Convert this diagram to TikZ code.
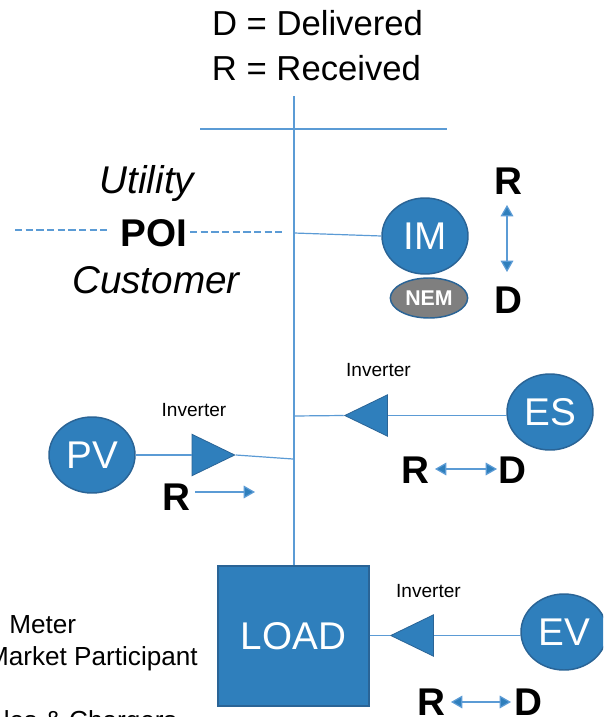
\documentclass[tikz,border=0pt]{standalone}
\usepackage{fontspec}
\setmainfont{Liberation Sans}
\usetikzlibrary{arrows.meta,shapes.geometric}
\definecolor{blockblue}{HTML}{2F7FBC}
\definecolor{edgeblue}{HTML}{2A6496}
\definecolor{wireblue}{HTML}{5B9BD5}
\definecolor{nemgray}{HTML}{7F7F7F}
\newcommand{\fpx}[1]{\fontsize{#1pt}{#1pt}\selectfont}
\tikzset{
  x=0.75pt,y=-0.75pt,
  wire/.style={draw=wireblue,line width=0.9pt},
  dashwire/.style={draw=wireblue,line width=0.9pt,dash pattern=on 5.5pt off 2.5pt},
  flow/.style={draw=wireblue,line width=0.9pt,{Triangle[length=8.5pt,width=9.5pt,fill=blockblue]}-{Triangle[length=8.5pt,width=9.5pt,fill=blockblue]}},
  flowone/.style={draw=wireblue,line width=0.9pt,-{Triangle[length=8.5pt,width=9.5pt,fill=blockblue]}},
  device/.style={ellipse,draw=edgeblue,line width=1.1pt,fill=blockblue,text=white,inner sep=0pt,minimum width=64.5pt,minimum height=57pt,font=\fpx{29}},
  nemnode/.style={ellipse,draw=edgeblue,line width=1.1pt,fill=nemgray,text=white,inner sep=0pt,minimum width=58pt,minimum height=30pt,font=\bfseries\fpx{16}},
  loadbox/.style={rectangle,draw=edgeblue,line width=1.1pt,fill=blockblue,text=white,inner sep=0pt,minimum width=113pt,minimum height=105pt,font=\fpx{29}},
  inverter/.style={isosceles triangle,isosceles triangle stretches,draw=edgeblue,line width=0.6pt,fill=blockblue,inner sep=0pt,minimum width=31pt,minimum height=32pt},
  small/.style={inner sep=0pt,anchor=base,font=\fpx{14.3}},
  legend/.style={inner sep=0pt,anchor=base,font=\fpx{26}},
  body/.style={inner sep=0pt,font=\fpx{19.6}},
  bigb/.style={inner sep=0pt,anchor=base,font=\bfseries\fpx{29}},
  side/.style={inner sep=0pt,anchor=base,font=\itshape\fpx{29}}
}
\begin{document}
\begin{tikzpicture}
\useasboundingbox (0,0) rectangle (603,717);
\clip (0,0) rectangle (603,717);
\fill[white] (0,0) rectangle (603,717);
% legend
\node[legend] (ld) at (317.5,36) {D = Delivered};
\node[legend] (lr) at (316.5,80) {R = Received};
% coordinates
\coordinate (bustop) at (294,96);
\coordinate (barl) at (200,129);
\coordinate (barr) at (447,129);
\coordinate (jim) at (294,233);
\coordinate (jes) at (294,416);
\coordinate (jpv) at (293,459);
\coordinate (dl1) at (15,230);
\coordinate (dl2) at (107,230);
\coordinate (dr1) at (190,232);
\coordinate (dr2) at (282,232);
\coordinate (fa) at (507,205);
\coordinate (fb) at (507,272);
\coordinate (fc) at (435,469);
\coordinate (fd) at (497,469);
\coordinate (fe) at (195,492);
\coordinate (ff) at (255,492);
\coordinate (fg) at (451,702);
\coordinate (fh) at (511,702);
% nodes
\node[loadbox] (load) at (293.5,636) {LOAD};
\node[device] (im) at (425,236) {IM};
\node[nemnode] (nem) at (429,298) {NEM};
\node[device] (es) at (550,412) {ES};
\node[device] (pv) at (92,455) {PV};
\node[device] (ev) at (564,632) {EV};
\node[inverter,shape border rotate=180] (inves) at (374.5,415.5) {};
\node[inverter] (invpv) at (205,455) {};
\node[inverter,shape border rotate=180] (invev) at (420.5,635.5) {};
% wires
\draw[wire] (barl) -- (barr);
\draw[wire] (bustop) -- (load.north -| bustop);
\draw[wire] (jim) -- (im.west);
\draw[wire] (jes) -- (inves.apex);
\draw[wire] (inves.lower side) -- (es.west |- inves.lower side);
\draw[wire] (pv.east) -- (invpv.lower side);
\draw[wire] (invpv.apex) -- (jpv);
\draw[wire] (load.east |- invev.apex) -- (invev.apex);
\draw[wire] (invev.lower side) -- (ev.west |- invev.lower side);
\draw[dashwire] (dl1) -- (dl2);
\draw[dashwire] (dr1) -- (dr2);
% labels
\node[side] (util) at (147,193) {Utility};
\node[bigb] (poi) at (154,246) {POI};
\node[side] (cust) at (156,293) {Customer};
\node[bigb] (rim) at (508.5,194) {R};
\node[bigb] (dim) at (508,313) {D};
\draw[flow] (fa) -- (fb);
\node[small] (t1) at (378.5,376) {Inverter};
\node[small] (t2) at (194,416) {Inverter};
\node[small] (t3) at (428.5,597) {Inverter};
\node[bigb] (res) at (415.5,483) {R};
\node[bigb] (des) at (512,483) {D};
\draw[flow] (fc) -- (fd);
\node[bigb] (rpv) at (176.5,510) {R};
\draw[flowone] (fe) -- (ff);
\node[bigb] (rev) at (431.5,715) {R};
\node[bigb] (dev) at (528,715) {D};
\draw[flow] (fg) -- (fh);
% clipped notes
\node[body,anchor=base west] (n1) at (9,633) {Meter};
\node[body,anchor=base east] (n2) at (198,665) {Market Participant};
\node[body,anchor=base east] (n3) at (177,729) {les \& Chargers};
\end{tikzpicture}
\end{document}
